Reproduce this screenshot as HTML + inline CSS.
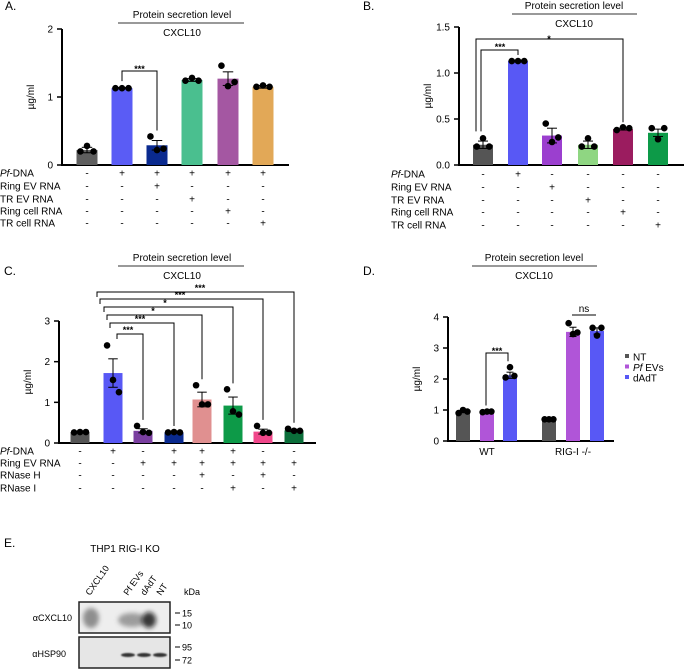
<!DOCTYPE html>
<html><head><meta charset="utf-8"><style>
body{margin:0;background:#fff}
svg{display:block;font-family:"Liberation Sans",Arial,sans-serif}
</style></head><body>
<svg id="fig" width="684" height="670" viewBox="0 0 684 670" xmlns="http://www.w3.org/2000/svg">
<defs><filter id="blur" x="-50%" y="-50%" width="200%" height="200%"><feGaussianBlur stdDeviation="2.5"/></filter>
<filter id="blur2" x="-50%" y="-50%" width="200%" height="200%"><feGaussianBlur stdDeviation="0.8"/></filter></defs>
</svg>
<script>
// Panel A data
const aLabels=["-","+","+","+","+","+"];
const aValues=[0.22,1.13,0.29,1.25,1.27,1.15];
const aPoints=[[0.2,0.28,0.2],[1.13,1.13,1.13],[0.42,0.22,0.24],[1.24,1.28,1.24],[1.46,1.16,1.22],[1.15,1.17,1.15]];
const aErr=[0.04,0.01,0.07,0.02,0.1,0.02];
const aTicks=[0,1,2];
// Panel B data
const bValues=[0.22,1.13,0.32,0.22,0.39,0.35];
const bPoints=[[0.2,0.29,0.2],[1.13,1.13,1.13],[0.45,0.25,0.3],[0.2,0.29,0.2],[0.38,0.41,0.4],[0.4,0.28,0.4]];
const bErr=[0.04,0.01,0.08,0.04,0.01,0.04];
const bTicks=[0,0.5,1.0,1.5];
// Panel C data
const cValues=[0.27,1.72,0.3,0.26,1.07,0.92,0.28,0.31];
const cPoints=[[0.26,0.27,0.27],[2.4,1.55,1.25],[0.42,0.27,0.25],[0.26,0.27,0.26],[1.42,0.95,0.95],[1.32,0.78,0.7],[0.42,0.25,0.25],[0.35,0.3,0.3]];
const cErr=[0.01,0.35,0.05,0.01,0.18,0.21,0.06,0.03];
const cTicks=[0,1,2,3];
// Panel D data
const dGroups=["WT","RIG-I -/-"];
const dSeries=["NT","Pf EVs","dAdT"];
const dValues=[[0.95,0.93,2.12],[0.7,3.52,3.55]];
const dPoints=[[[0.9,1.0,0.95],[0.93,0.95,0.95],[2.05,2.38,2.1]],[[0.7,0.7,0.7],[3.8,3.45,3.5],[3.65,3.4,3.65]]];
const dErr=[[0.03,0.01,0.1],[0.0,0.15,0.1]];
const dTicks=[0,1,2,3,4];

const S=document.getElementById('fig');
const NS="http://www.w3.org/2000/svg";
function mk(tag,at,parent,txt){const e=document.createElementNS(NS,tag);for(const k in at)e.setAttribute(k,at[k]);if(txt!==undefined)e.textContent=txt;(parent||S).appendChild(e);return e;}
function T(x,y,s,size,anchor,name,extra){const e=mk('text',Object.assign({x:x,y:y,'font-size':size||10,'text-anchor':anchor||'middle',fill:'#000'},extra||{}),S,s);

return e;}
function L(x1,y1,x2,y2,w,name,c){const e=mk('line',{x1:x1,y1:y1,x2:x2,y2:y2,stroke:c||'#000','stroke-width':w||1});

return e;}
function P(d,name){const e=mk('path',{d:d,fill:'none',stroke:'#000','stroke-width':1});

return e;}

function header(cx,y,lx1,lx2,letter,lx,ly,p){
 T(lx,ly,letter,12,'start','panel-'+p+'-letter');
 T(cx,y,'Protein secretion level',10,'middle','panel-'+p+'-title');
 L(lx1,y+5,lx2,y+5,1,'panel-'+p+'-title-rule','#333');
 T(cx,y+18,'CXCL10',10,'middle','panel-'+p+'-subtitle');
}
function axes(p,x0,y0,yTop,xEnd,ticks,tmax,fmt){
 const sc=v=>y0-(v/tmax)*(y0-yTop);
 L(x0,yTop,x0,y0+1,2,'panel-'+p+'-y-axis');
 L(x0,y0,xEnd,y0,2,'panel-'+p+'-x-axis');
 ticks.forEach(t=>{L(x0-5,sc(t),x0,sc(t),1.5,'panel-'+p+'-y-tick');T(x0-9,sc(t)+3.5,fmt?t.toFixed(1):String(t),10,'end','panel-'+p+'-y-tick-label');});
 T(0,0,'µg/ml',10,'middle','panel-'+p+'-y-axis-title',{transform:`translate(${x0-28},${(y0+yTop)/2}) rotate(-90)`});
 return sc;
}
function bar(p,cx,w,v,err,pts,col,sc,y0,i){
 const r=mk('rect',{x:cx-w/2,y:sc(v),width:w,height:y0-sc(v),fill:col});
 
 
 L(cx,sc(v-err),cx,sc(v+err),1,'panel-'+p+'-error-bar');
 L(cx-w/4,sc(v+err),cx+w/4,sc(v+err),1,'panel-'+p+'-error-cap');
 L(cx-w/4,sc(v-err),cx+w/4,sc(v-err),1,'panel-'+p+'-error-cap');
 const offs=[-w/3.2,0,w/3.2];
 pts.forEach((pv,j)=>{const c=mk('circle',{cx:cx+offs[j],cy:sc(pv),r:3.3,fill:'#000'});
 
 });
}
function rows(p,names,vals,xs,lx,ys){
 names.forEach((n,i)=>{
  if(n==='Pf-DNA'){const t=T(lx,ys[i]+3.5,'',10,'start','panel-'+p+'-row-label');mk('tspan',{'font-style':'italic'},t,'Pf');mk('tspan',{},t,'-DNA');}
  else T(lx,ys[i]+3.5,n,10,'start','panel-'+p+'-row-label');
  vals[i].forEach((s,j)=>T(xs[j],ys[i]+3.5,s,10,'middle','panel-'+p+'-row-sign'));
 });
}
const SIG={'font-weight':'bold'};

// ===== Panel A =====
header(182,18,118,244,'A.',5,10,'a');
const aCol=['#5f5f5f','#5a5cf5','#0a2a8f','#4abf8f','#a457a2','#e2a857'];
const aX=[87,122,157,192,228,263];
const scA=axes('a',62,165,29,289,aTicks,2,false);
aValues.forEach((v,i)=>bar('a',aX[i],21,v,aErr[i],aPoints[i],aCol[i],scA,165,i));
P(`M122,${scA(1.13)-7} V71 H157 V${scA(0.42)-6}`,'panel-a-sig-bracket');
T(139.5,72,'***',9,'middle','panel-a-sig-label',SIG);
rows('a',['Pf-DNA','Ring EV RNA','TR EV RNA','Ring cell RNA','TR cell RNA'],
 [aLabels,['-','-','+','-','-','-'],['-','-','-','+','-','-'],['-','-','-','-','+','-'],['-','-','-','-','-','+']],aX,0,[173,186,199,211,223]);

// ===== Panel B =====
header(574,9,512,637,'B.',363,10,'b');
const bCol=['#555555','#5858f5','#9b3fcf','#8fd682','#9b1c5f','#0d9a48'];
const bX=[483,518,552,588,623,658];
const scB=axes('b',459,165,27,684,bTicks,1.5,true);
bValues.forEach((v,i)=>bar('b',bX[i],20,v,bErr[i],bPoints[i],bCol[i],scB,165,i));
P(`M476,${scB(0.3)-6} V39 H623 V${scB(0.41)-5}`,'panel-b-sig-bracket');
T(549,42,'*',9,'middle','panel-b-sig-label',SIG);
P(`M481,${scB(0.3)-6} V50 H518 V${scB(1.13)-6}`,'panel-b-sig-bracket');
T(500,50,'***',9,'middle','panel-b-sig-label',SIG);
rows('b',['Pf-DNA','Ring EV RNA','TR EV RNA','Ring cell RNA','TR cell RNA'],
 [['-','+','-','-','-','-'],['-','-','+','-','-','-'],['-','-','-','+','-','-'],['-','-','-','-','+','-'],['-','-','-','-','-','+']],bX,391,[174,187,200,212,225]);

// ===== Panel C =====
header(182,261,118,244,'C.',4,275,'c');
const cCol=['#555555','#5858f5','#7a3fa0','#0a2a8f','#e09090','#0d9a48','#f0478a','#0b6e3a'];
const cX=[80,113,143,174,202,233,263,294];
const scC=axes('c',59,443,321,316,cTicks,3,false);
cValues.forEach((v,i)=>bar('c',cX[i],19,v,cErr[i],cPoints[i],cCol[i],scC,443,i));
const brY=[292,299,307,315,323,334], brL=[97,100,104,107,110,117], brR=[294,263,233,202,174,143];
const brT=['***','***','*','*','***','***'], brTx=[200,180,165,153,140,128];
const brTop=[0.35,0.42,1.32,1.42,0.27,0.42];
brY.forEach((y,i)=>{P(`M${brL[i]},${y+5} V${y} H${brR[i]} V${scC(brTop[i])-6}`,'panel-c-sig-bracket');
 T(brTx[i],y-1,brT[i],9,'middle','panel-c-sig-label',SIG);});
rows('c',['Pf-DNA','Ring EV RNA','RNase H','RNase I'],
 [['-','+','-','+','+','+','-','-'],['-','-','+','+','+','+','+','+'],['-','-','-','-','+','-','+','-'],['-','-','-','-','-','+','-','+']],cX,0,[451,463,475,488]);

// ===== Panel D =====
header(534,261,472,597,'D.',363,275,'d');
const dCol=['#555555','#b055d8','#5858f5'];
const dX=[[463,487,510],[549,573,597]];
const scD=axes('d',448,441,317,614,dTicks,4,false);
dValues.forEach((g,gi)=>g.forEach((v,si)=>bar('d',dX[gi][si],14,v,dErr[gi][si],dPoints[gi][si],dCol[si],scD,441,gi*3+si)));
dGroups.forEach((g,i)=>T(dX[i][1],455,g,10,'middle','panel-d-x-category-label'));
P(`M486,${scD(0.95)-6} V353 H508 V${scD(2.38)-6}`,'panel-d-sig-bracket');
T(497,354,'***',9,'middle','panel-d-sig-label',SIG);
L(572,315,596,315,1,'panel-d-sig-line');
T(584,312,'ns',10,'middle','panel-d-sig-label');
dSeries.forEach((s,i)=>{const y=357+i*10.5;
 const r=mk('rect',{x:625,y:y-3,width:4,height:4,fill:dCol[i]});
 
 
 if(s==='Pf EVs'){const t=T(633,y+3.5,'',10,'start','legend-entry');mk('tspan',{'font-style':'italic'},t,'Pf');mk('tspan',{},t,' EVs');}
 else T(633,y+3.5,s,10,'start','legend-entry');});

// ===== Panel E =====
T(4,547,'E.',12,'start','panel-e-letter');
T(125,552,'THP1 RIG-I KO',10,'middle','blot-title');
const laneNames=['CXCL10','Pf EVs','dAdT','NT'];
const laneX=[90,128,145,161];
laneNames.forEach((n,i)=>T(0,0,n,9,'start','lane-label',{transform:`translate(${laneX[i]},596) rotate(-55)`}));
T(184,595,'kDa',9,'start','kda-label');
const b1=mk('rect',{x:79,y:602,width:91,height:31,fill:'#eeeeee',stroke:'#222','stroke-width':1.5});


const b2=mk('rect',{x:79,y:637,width:91,height:31,fill:'#e6e6e6',stroke:'#222','stroke-width':1.5});


[[91,618,8,10,'#777'],[132,620,14,7,'#888'],[149,620,7,8,'#111']].forEach(b=>{const e=mk('ellipse',{cx:b[0],cy:b[1],rx:b[2],ry:b[3],fill:b[4],opacity:0.8,filter:'url(#blur)'});
 
 });
[[128,655],[144,655],[160,655]].forEach(b=>{const e=mk('ellipse',{cx:b[0],cy:b[1],rx:7,ry:2,fill:'#333',filter:'url(#blur2)'});
 
 });
T(72,621,'αCXCL10',9,'end','blot-row-label');
T(66,657,'αHSP90',9,'end','blot-row-label');
[['15',613],['10',625],['95',647],['72',660]].forEach(m=>{L(175,m[1],180,m[1],1,'marker-tick');T(182,m[1]+3.5,m[0],9,'start','marker-label');});
</script>
</body></html>
